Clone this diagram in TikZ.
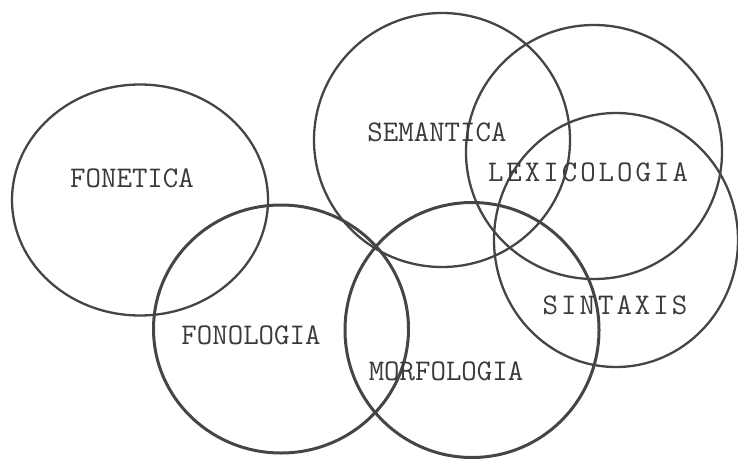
\documentclass[tikz,border=0pt]{standalone}
\usetikzlibrary{shapes.geometric}
\definecolor{ink}{HTML}{454545}
\definecolor{txt}{HTML}{3A3A3A}
\tikzset{
  ring/.style={ellipse, draw=ink, line width=2.3pt, inner sep=0pt},
  thick ring/.style={ring, line width=3pt},
  lbl/.style={text=txt, font=\ttfamily\fontsize{30}{30}\selectfont, inner sep=0pt}
}
\begin{document}
\begin{tikzpicture}[x=1pt,y=-1pt]
\useasboundingbox (0,0) rectangle (738,460);
\node[ring, minimum width=256pt, minimum height=231pt] (cfonetica) at (140,200) {};
\node[thick ring, minimum width=255pt, minimum height=248pt] (cfonologia) at (281,329) {};
\node[ring, minimum width=256pt, minimum height=254pt] (csemantica) at (442,140) {};
\node[thick ring, minimum width=254pt, minimum height=255pt] (cmorfologia) at (472,330) {};
\node[ring, minimum width=256pt, minimum height=254pt] (clexicologia) at (594,152) {};
\node[ring, minimum width=244pt, minimum height=254pt] (csintaxis) at (616,240) {};
\node[lbl] (tfonetica) at (132,178) {FONETICA};
\node[lbl] (tfonologia) at (251,335) {FONOLOGIA};
\node[lbl] (tsemantica) at (437,132) {SEMANTICA};
\node[lbl] (tmorfologia) at (446,371) {MORFOLOGIA};
\node[lbl] (tlexicologia) at (588,172) {L\kern3pt E\kern3pt X\kern3pt I\kern3pt C\kern3pt O\kern3pt L\kern3pt O\kern3pt G\kern3pt I\kern3pt A};
\node[lbl] (tsintaxis) at (615,305) {S\kern3pt I\kern3pt N\kern3pt T\kern3pt A\kern3pt X\kern3pt I\kern3pt S};
\end{tikzpicture}
\end{document}
